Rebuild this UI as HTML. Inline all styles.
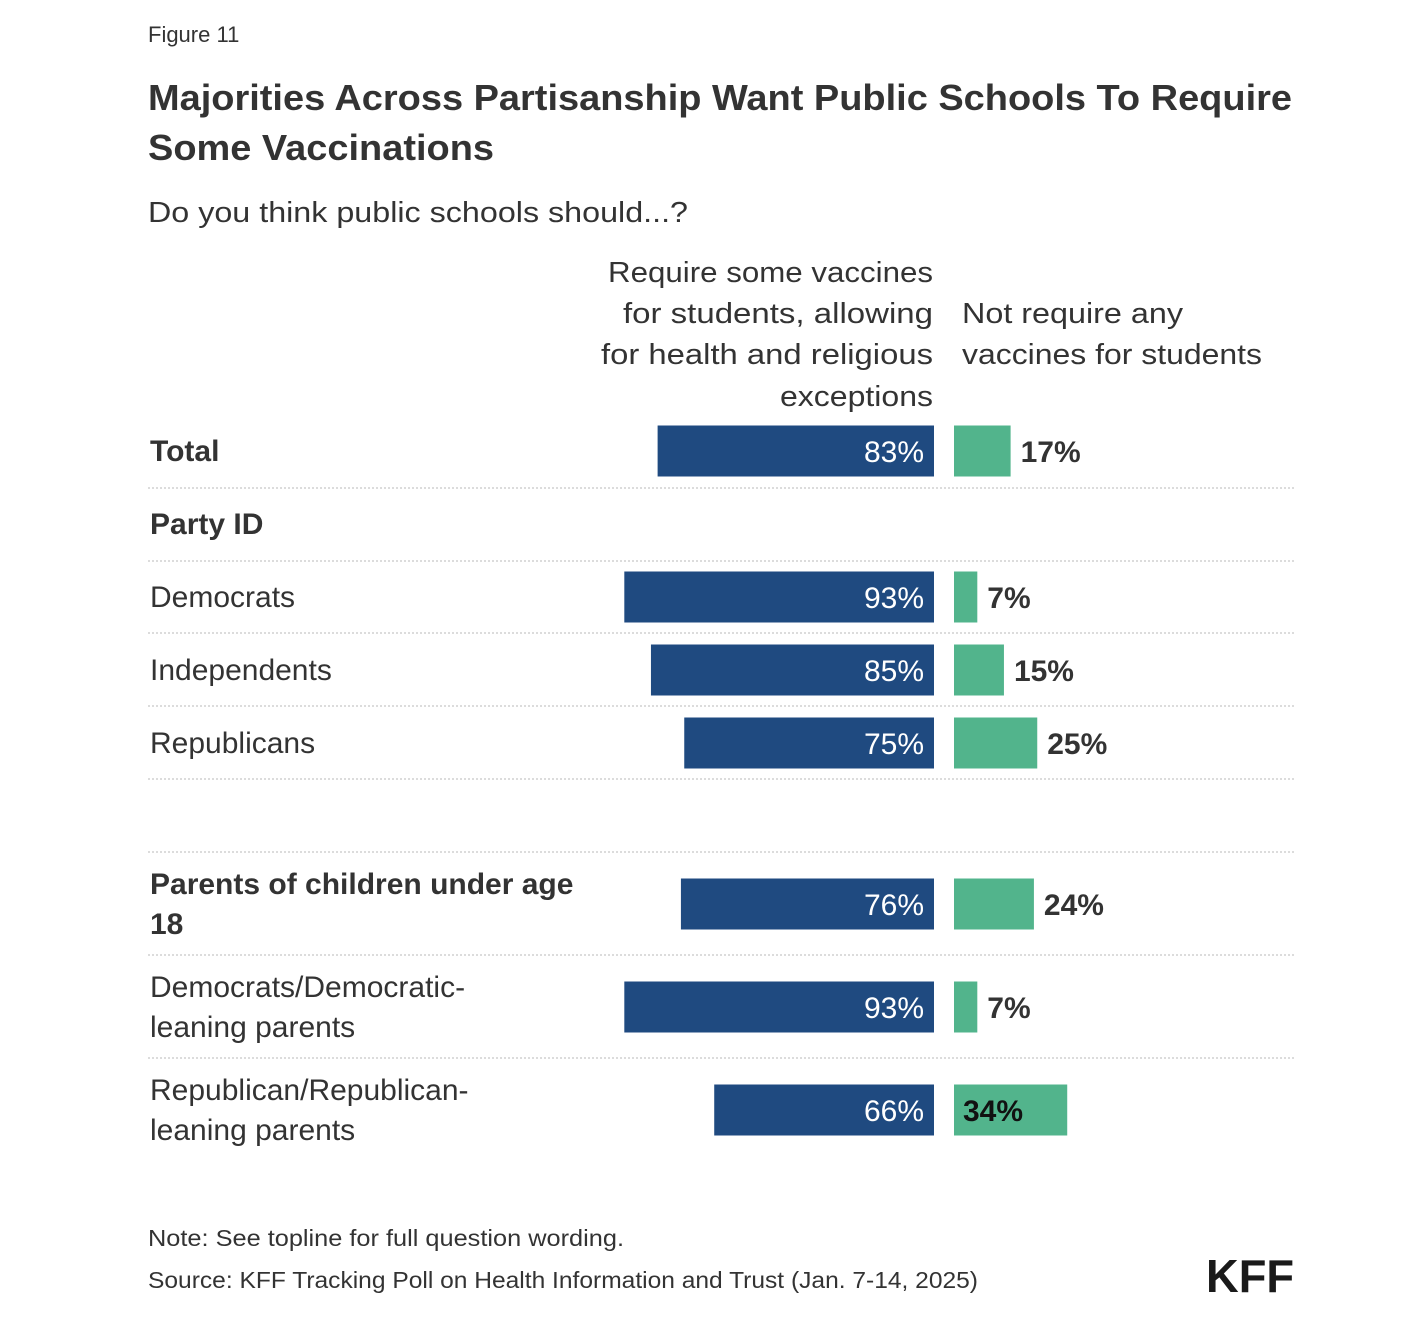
<!DOCTYPE html>
<html><head><meta charset="utf-8"><style>
body{margin:0;background:#fff;width:1422px;height:1332px;overflow:hidden}
svg{display:block;font-family:"Liberation Sans",sans-serif}
</style></head><body>
<svg id="chart" width="1422" height="1332" viewBox="0 0 1422 1332">
<text x="148" y="42" font-size="22" fill="#333">Figure 11</text>
<text x="148" y="110" font-size="36" font-weight="bold" fill="#333" textLength="1144" lengthAdjust="spacingAndGlyphs">Majorities Across Partisanship Want Public Schools To Require</text>
<text x="148" y="160" font-size="36" font-weight="bold" fill="#333" textLength="346" lengthAdjust="spacingAndGlyphs">Some Vaccinations</text>
<text x="148" y="222" font-size="29" fill="#333" textLength="540" lengthAdjust="spacingAndGlyphs">Do you think public schools should...?</text>
<g font-size="29" fill="#333" text-anchor="end">
<text x="933" y="282" textLength="325" lengthAdjust="spacingAndGlyphs">Require some vaccines</text>
<text x="933" y="323" textLength="310" lengthAdjust="spacingAndGlyphs">for students, allowing</text>
<text x="933" y="364" textLength="332" lengthAdjust="spacingAndGlyphs">for health and religious</text>
<text x="933" y="406" textLength="153" lengthAdjust="spacingAndGlyphs">exceptions</text>
</g>
<g font-size="29" fill="#333">
<text x="962" y="323" textLength="221" lengthAdjust="spacingAndGlyphs">Not require any</text>
<text x="962" y="364" textLength="300" lengthAdjust="spacingAndGlyphs">vaccines for students</text>
</g>
<g id="rows"></g>
<text x="148" y="1246" font-size="23" fill="#333" textLength="476" lengthAdjust="spacingAndGlyphs">Note: See topline for full question wording.</text>
<text x="148" y="1288" font-size="23" fill="#333" textLength="830" lengthAdjust="spacingAndGlyphs">Source: KFF Tracking Poll on Health Information and Trust (Jan. 7-14, 2025)</text>
<text x="1294" y="1292" font-size="46" font-weight="bold" fill="#1a1a1a" text-anchor="end" textLength="88" lengthAdjust="spacingAndGlyphs">KFF</text>
</svg>
<script>
const categories = ["Total","Democrats","Independents","Republicans","Parents of children under age|18","Democrats/Democratic-|leaning parents","Republican/Republican-|leaning parents"];
const requireValues = [83,93,85,75,76,93,66];
const notRequireValues = [17,7,15,25,24,7,34];
const boldRows = [true,false,false,false,true,false,false];
const rowCenters = [451,597,670,743,904,1007,1110];
const dividerYs = [488,561,633,706,779,852,955,1058];
const NS="http://www.w3.org/2000/svg";
const g=document.getElementById('rows');
const scale=v=>v*3.33;
const zeroBlue=934, zeroGreen=954;
function el(t,a){const e=document.createElementNS(NS,t);for(const k in a)e.setAttribute(k,a[k]);g.appendChild(e);return e;}
dividerYs.forEach(y=>{
 const l=el('line',{x1:148,x2:1294,y1:y,y2:y,stroke:'#c8c8c8','stroke-width':1.2,'stroke-dasharray':'2 2'});
 
 
});
const pid=el('text',{x:150,y:534,'font-size':30,'font-weight':'bold',fill:'#333'});
pid.textContent='Party ID';


categories.forEach((c,i)=>{
 const cy=rowCenters[i];
 const lines=c.split('|');
 lines.forEach((ln,j)=>{
  const y = lines.length>1 ? cy-10+j*40 : cy+10;
  const t=el('text',{x:150,y:y,'font-size':30,fill:'#333','font-weight':boldRows[i]?'bold':'normal'});
  t.textContent=ln;
  
  
 });
 const w1=scale(requireValues[i]);
 const b1=el('rect',{x:zeroBlue-w1,y:cy-25.5,width:w1,height:51,fill:'#1f4a80'});
 
 
 const t1=el('text',{x:zeroBlue-10,y:cy+11,'font-size':30,fill:'#fff','text-anchor':'end'});
 t1.textContent=requireValues[i]+'%';
 
 
 const w2=scale(notRequireValues[i]);
 const b2=el('rect',{x:zeroGreen,y:cy-25.5,width:w2,height:51,fill:'#52b48c'});
 
 
 const inside=w2>100;
 const t2=el('text',{x:inside?zeroGreen+9:zeroGreen+w2+10,y:cy+11,'font-size':30,fill:inside?'#111':'#333','font-weight':'bold'});
 t2.textContent=notRequireValues[i]+'%';
 
 
});
</script>
</body></html>
